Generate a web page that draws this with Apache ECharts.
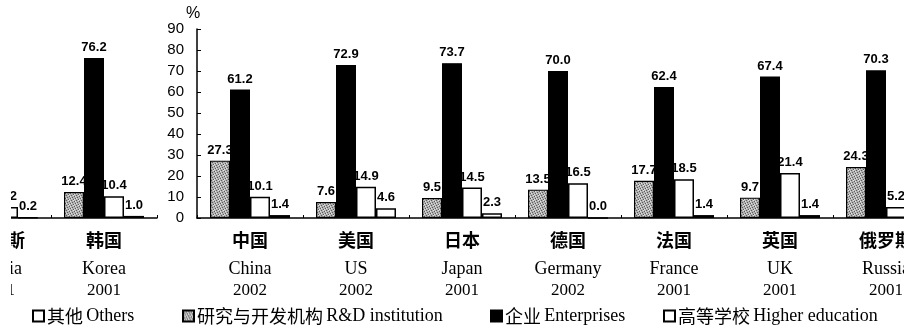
<!DOCTYPE html>
<html>
<head>
<meta charset="utf-8">
<script src="https://cdn.jsdelivr.net/npm/echarts@6/dist/echarts.min.js"></script>
<style>
  html, body { margin: 0; padding: 0; background: #fff; overflow: hidden; width: 904px; height: 332px; }
  #chart { position: absolute; left: -64px; top: 0; width: 1032px; height: 332px; }
</style>
</head>
<body>
<div id="chart"></div>
<script>
// R&D expenditure by performing sector, share of total (%)
const cnNames = ['俄罗斯', '韩国', '中国', '美国', '日本', '德国', '法国', '英国', '俄罗斯'];
const enNames = ['Russia', 'Korea', 'China', 'US', 'Japan', 'Germany', 'France', 'UK', 'Russia'];
const years = ['2001', '2001', '2002', '2002', '2001', '2002', '2001', '2001', '2001'];

const rdInstitution   = [24.3, 12.4, 27.3, 7.6, 9.5, 13.5, 17.7, 9.7, 24.3];
const enterprises     = [70.3, 76.2, 61.2, 72.9, 73.7, 70.0, 62.4, 67.4, 70.3];
const higherEducation = [5.2, 10.4, 10.1, 14.9, 14.5, 16.5, 18.5, 21.4, 5.2];
const others          = [0.2, 1.0, 1.4, 4.6, 2.3, 0.0, 1.4, 1.4, 0.2];

const yTicks = [0, 10, 20, 30, 40, 50, 60, 70, 80, 90];

const seriesNames = {
  others: '其他 Others',
  rd: '研究与开发机构 R&D institution',
  ent: '企业 Enterprises',
  higher: '高等学校 Higher education'
};

// the first two groups sit left of the value axis, the rest to its right
const splitAt = 2;

// speckled grey fill for the research-institution bars
function speckle() {
  const c = document.createElement('canvas');
  c.width = 5; c.height = 5;
  const g = c.getContext('2d');
  g.fillStyle = '#b2b2b2';
  g.fillRect(0, 0, 5, 5);
  g.fillStyle = '#5c5c5c';
  [[0, 0], [3, 1], [1, 2], [4, 3], [2, 4]].forEach(([x, y]) => g.fillRect(x, y, 1, 1));
  g.fillStyle = '#e2e2e2';
  [[2, 0], [0, 3], [4, 1], [3, 4]].forEach(([x, y]) => g.fillRect(x, y, 1, 1));
  return c;
}

const chart = echarts.init(document.getElementById('chart'), null, { renderer: 'canvas' });

const catLabels = cnNames.map((c, i) => '{cn|' + c + '}\n{en|' + enNames[i] + '}\n{yr|' + years[i] + '}');

const axisLabelStyle = {
  interval: 0,
  margin: 8,
  color: '#000',
  formatter: v => v,
  rich: {
    cn: { fontFamily: 'Noto Sans CJK SC', fontWeight: 'bold', fontSize: 18, lineHeight: 28, color: '#000' },
    en: { fontFamily: 'Liberation Serif', fontSize: 18, lineHeight: 30, color: '#000' },
    yr: { fontFamily: 'Liberation Serif', fontSize: 17, lineHeight: 14, color: '#000' }
  }
};

function xAxisFor(gridIndex, cats) {
  return {
    type: 'category',
    gridIndex: gridIndex,
    data: cats,
    axisLine: { lineStyle: { color: '#000', width: 1.5 } },
    axisTick: { show: true, inside: true, length: 3, lineStyle: { color: '#000' } },
    axisLabel: axisLabelStyle
  };
}

const gridTop = 29, gridHeight = 189;

const fills = {
  rd: { color: { image: speckle(), repeat: 'repeat' }, borderColor: '#000', borderWidth: 1.2 },
  ent: { color: '#000', borderColor: '#000', borderWidth: 1.2 },
  higher: { color: '#fff', borderColor: '#000', borderWidth: 1.5 },
  others: { color: '#fff', borderColor: '#000', borderWidth: 1.5 }
};

const groups = [
  ['rd', rdInstitution],
  ['ent', enterprises],
  ['higher', higherEducation],
  ['others', others]
];

const series = [];
[0, 1].forEach(gi => {
  groups.forEach(([key, values]) => {
    const part = gi === 0 ? values.slice(0, splitAt) : values.slice(splitAt);
    series.push({
      type: 'bar',
      name: seriesNames[key],
      xAxisIndex: gi,
      yAxisIndex: gi,
      data: part,
      barWidth: 20,
      barGap: '0%',
      itemStyle: fills[key],
      label: {
        show: true,
        position: 'top',
        distance: 4,
        color: '#000',
        fontFamily: 'Liberation Sans',
        fontWeight: 'bold',
        fontSize: 13,
        formatter: p => Number(p.value).toFixed(1)
      }
    });
  });
});

const legendRich = {
  cn: { fontFamily: 'Noto Sans CJK SC', fontSize: 18, color: '#000' },
  en: { fontFamily: 'Liberation Serif', fontSize: 18, color: '#000' }
};
function legendAt(key, left) {
  return {
    data: [seriesNames[key]],
    left: left,
    top: 302,
    icon: 'rect',
    itemWidth: 11,
    itemHeight: 11,
    selectedMode: false,
    formatter: name => {
      const sp = name.indexOf(' ');
      return '{cn|' + name.slice(0, sp) + '} {en|' + name.slice(sp + 1) + '}';
    },
    textStyle: { rich: legendRich, padding: [0, 0, 0, -2] }
  };
}

chart.setOption({
  animation: false,
  backgroundColor: '#fff',
  grid: [
    { left: 9, top: gridTop, width: 212, height: gridHeight },
    { left: 261, top: gridTop, width: 742, height: gridHeight }
  ],
  xAxis: [
    xAxisFor(0, catLabels.slice(0, splitAt)),
    xAxisFor(1, catLabels.slice(splitAt))
  ],
  yAxis: [
    { type: 'value', gridIndex: 0, min: 0, max: 90, interval: 10, show: false },
    {
      type: 'value', gridIndex: 1, min: yTicks[0], max: yTicks[yTicks.length - 1], interval: 10,
      name: '%',
      nameLocation: 'end',
      nameGap: 3,
      nameTextStyle: { color: '#000', fontFamily: 'Liberation Sans', fontSize: 16, padding: [0, 8, 0, 0] },
      axisLine: { show: true, lineStyle: { color: '#000', width: 1.5 } },
      axisTick: { show: true, inside: true, length: 4, lineStyle: { color: '#000' } },
      splitLine: { show: false },
      axisLabel: { color: '#000', fontFamily: 'Liberation Sans', fontSize: 15, margin: 13 }
    }
  ],
  legend: [
    legendAt('others', 91),
    legendAt('rd', 241),
    legendAt('ent', 549),
    legendAt('higher', 722)
  ],
  // blank strip along the left edge, where the page is cut off
  graphic: [{
    type: 'rect',
    left: 64, top: 0,
    shape: { width: 11, height: 298 },
    style: { fill: '#fff' },
    z: 100
  }],
  series: series
});
</script>
</body>
</html>
